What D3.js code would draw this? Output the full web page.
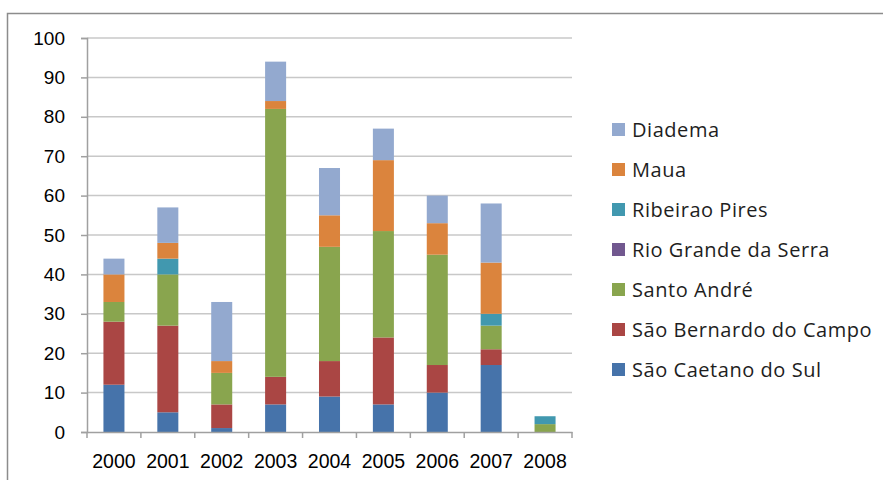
<!DOCTYPE html>
<html>
<head>
<meta charset="utf-8">
<script src="https://cdn.jsdelivr.net/npm/d3@7"></script>
<style>
  body { margin: 0; background: #fff; }
  svg { display: block; }
</style>
</head>
<body>
<div id="chart"></div>
<script>
// data
const years = ['2000', '2001', '2002', '2003', '2004', '2005', '2006', '2007', '2008'];
const seriesNames = ['São Caetano do Sul', 'São Bernardo do Campo', 'Santo André', 'Rio Grande da Serra', 'Ribeirao Pires', 'Maua', 'Diadema'];
const saoCaetano   = [12, 5, 1, 7, 9, 7, 10, 17, 0];
const saoBernardo  = [16, 22, 6, 7, 9, 17, 7, 4, 0];
const santoAndre   = [5, 13, 8, 68, 29, 27, 28, 6, 2];
const rioGrande    = [0, 0, 0, 0, 0, 0, 0, 0, 0];
const ribeirao     = [0, 4, 0, 0, 0, 0, 0, 3, 2];
const maua         = [7, 4, 3, 2, 8, 18, 8, 13, 0];
const diadema      = [4, 9, 15, 10, 12, 8, 7, 15, 0];
const yTicks = [0, 10, 20, 30, 40, 50, 60, 70, 80, 90, 100];

const colors = ['#4673aa', '#aa4644', '#89a54e', '#71588f', '#4198af', '#db843d', '#93a9cf'];
const legendOrder = ['Diadema', 'Maua', 'Ribeirao Pires', 'Rio Grande da Serra', 'Santo André', 'São Bernardo do Campo', 'São Caetano do Sul'];

const width = 883, height = 480;
const margin = { top: 38, left: 87, right: 311, bottom: 48 };

const svg = d3.select('#chart').append('svg')
    .attr('width', width)
    .attr('height', height);

// outer chart frame
svg.append('rect')
    .attr('x', 7.5).attr('y', 13.5)
    .attr('width', 900).attr('height', 500)
    .attr('fill', 'none')
    .attr('stroke', '#8c8c8c')
    .attr('stroke-width', 1.5);

const table = years.map((y, i) => {
    const row = { year: y };
    row[seriesNames[0]] = saoCaetano[i];
    row[seriesNames[1]] = saoBernardo[i];
    row[seriesNames[2]] = santoAndre[i];
    row[seriesNames[3]] = rioGrande[i];
    row[seriesNames[4]] = ribeirao[i];
    row[seriesNames[5]] = maua[i];
    row[seriesNames[6]] = diadema[i];
    return row;
});
const stacked = d3.stack().keys(seriesNames)(table);

const x = d3.scaleBand()
    .domain(years)
    .range([margin.left, width - margin.right])
    .paddingInner(0.61)
    .paddingOuter(0.305);

const y = d3.scaleLinear()
    .domain([0, 100])
    .range([height - margin.bottom, margin.top]);

const color = d3.scaleOrdinal().domain(seriesNames).range(colors);

// gridlines
svg.append('g')
    .selectAll('line')
    .data(yTicks.slice(1))
    .join('line')
    .attr('x1', margin.left)
    .attr('x2', width - margin.right)
    .attr('y1', d => y(d))
    .attr('y2', d => y(d))
    .attr('stroke', '#c8c8c8')
    .attr('stroke-width', 1.5);

// bars
svg.append('g')
    .selectAll('g')
    .data(stacked)
    .join('g')
    .attr('fill', d => color(d.key))
    .selectAll('rect')
    .data(d => d)
    .join('rect')
    .attr('x', d => x(d.data.year))
    .attr('width', x.bandwidth())
    .attr('y', d => y(d[1]))
    .attr('height', d => y(d[0]) - y(d[1]));

// y axis
const yAxis = svg.append('g')
    .attr('transform', `translate(${margin.left},0)`)
    .call(d3.axisLeft(y).tickValues(yTicks).tickSize(6).tickPadding(16));
yAxis.select('.domain').attr('stroke', '#a0a0a0').attr('stroke-width', 1.5);
yAxis.selectAll('.tick line').attr('stroke', '#a0a0a0').attr('stroke-width', 1.5);
yAxis.selectAll('text')
    .style('font-family', '"Liberation Sans", Arial, sans-serif')
    .style('font-size', '19px')
    .attr('fill', '#000');

// x axis, ticks sit on the category boundaries
const xAxis = svg.append('g')
    .attr('transform', `translate(0,${y(0)})`)
    .call(d3.axisBottom(x).tickSize(0).tickPadding(22));
xAxis.select('.domain').attr('stroke', '#a0a0a0').attr('stroke-width', 1.5);
xAxis.selectAll('text')
    .style('font-family', '"Liberation Sans", Arial, sans-serif')
    .style('font-size', '19.5px')
    .attr('fill', '#000');
xAxis.selectAll('.boundary')
    .data(d3.range(years.length + 1))
    .join('line')
    .attr('class', 'boundary')
    .attr('x1', i => margin.left + i * x.step())
    .attr('x2', i => margin.left + i * x.step())
    .attr('y1', 0)
    .attr('y2', 6)
    .attr('stroke', '#a0a0a0')
    .attr('stroke-width', 1.5);

// legend
const legend = svg.append('g')
    .attr('transform', 'translate(612,130)');
const item = legend.selectAll('g')
    .data(legendOrder)
    .join('g')
    .attr('transform', (d, i) => `translate(0,${i * 40})`);
item.append('rect')
    .attr('x', 0).attr('y', -7)
    .attr('width', 13).attr('height', 13)
    .attr('fill', d => color(d));
item.append('text')
    .attr('x', 20)
    .attr('y', 0)
    .attr('dy', '0.35em')
    .style('font-family', '"Open Sans", sans-serif')
    .style('font-size', '20px')
    .style('letter-spacing', '0.55px')
    .attr('fill', '#1e1e1e')
    .text(d => d);
</script>
</body>
</html>
